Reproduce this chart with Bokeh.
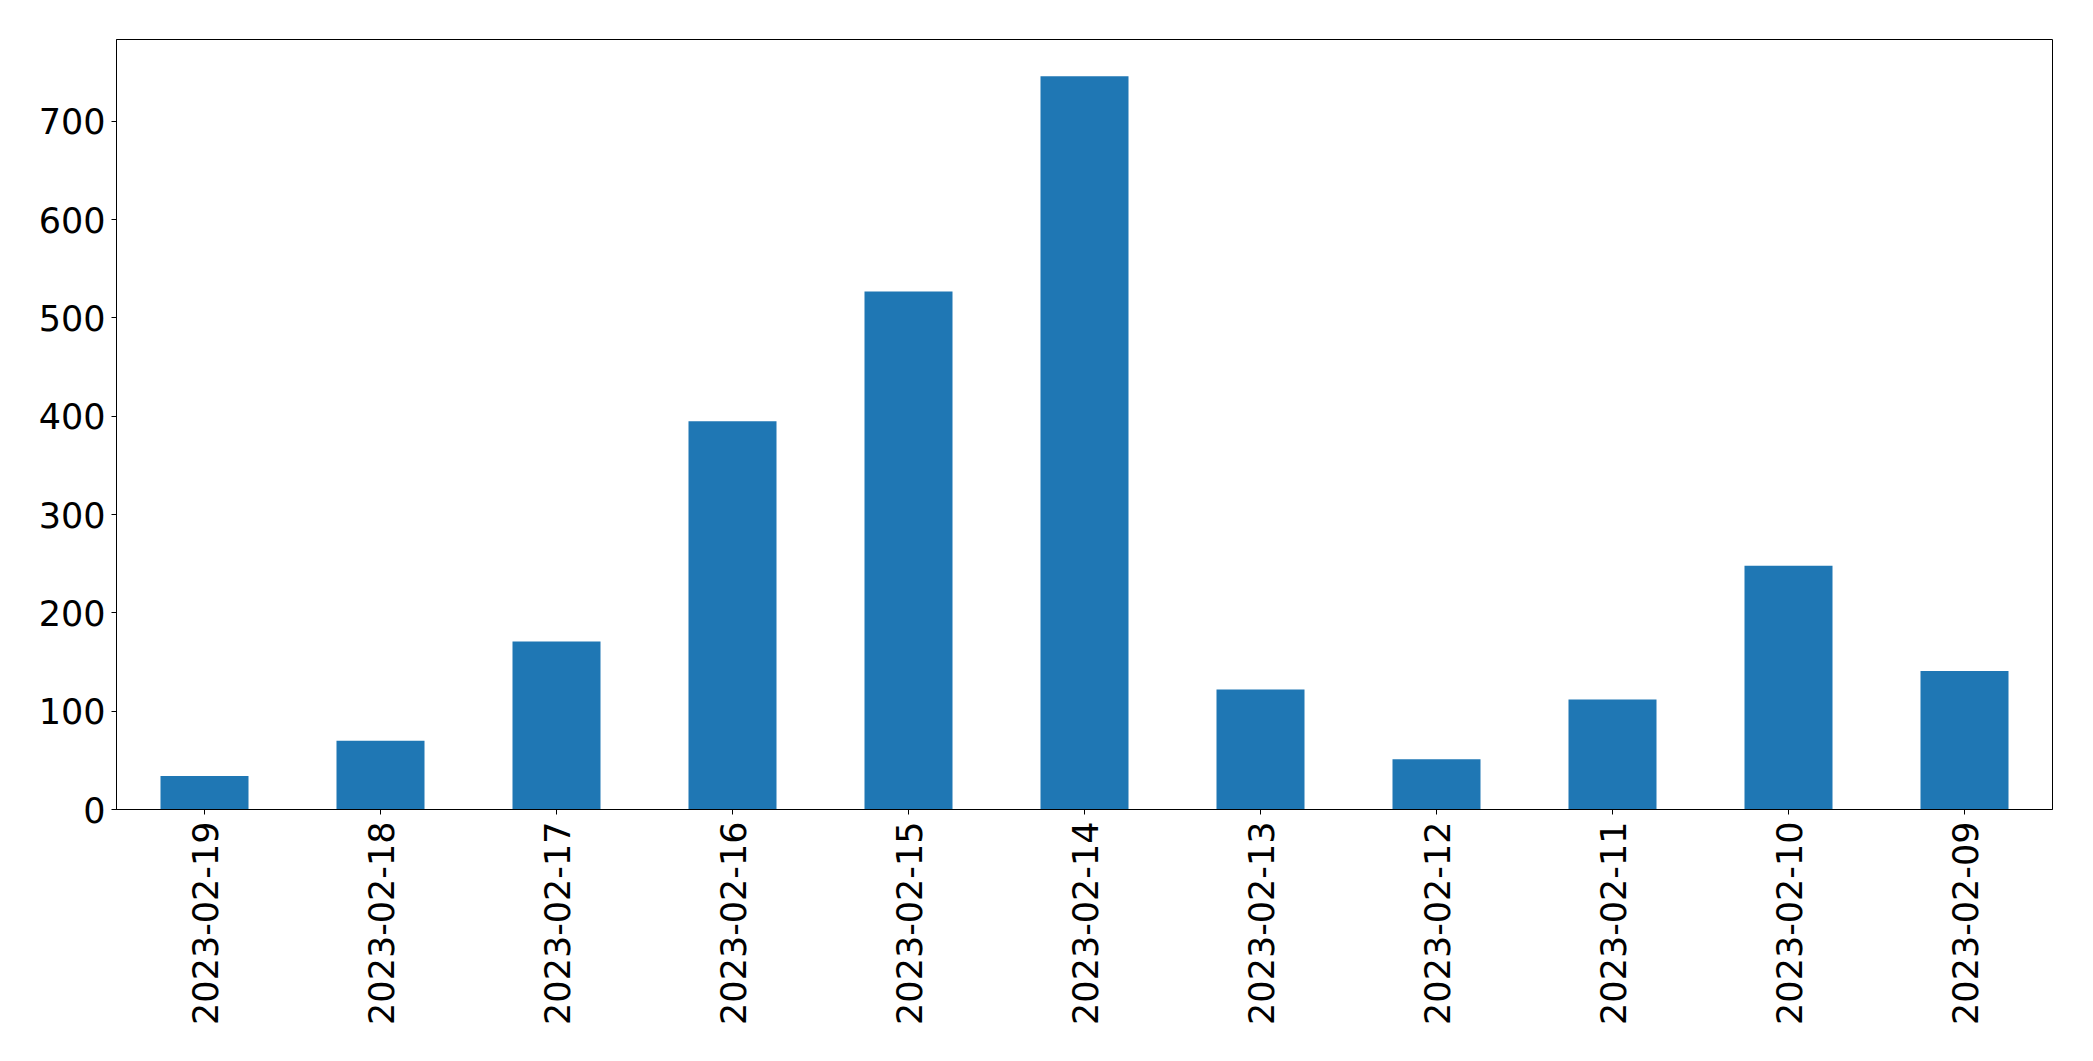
import math
from bokeh.plotting import figure
from bokeh.models import FactorRange, Range1d, FixedTicker, ColumnDataSource
from bokeh.embed import file_html
from bokeh.resources import INLINE

dates = ["2023-02-19", "2023-02-18", "2023-02-17", "2023-02-16", "2023-02-15",
         "2023-02-14", "2023-02-13", "2023-02-12", "2023-02-11", "2023-02-10",
         "2023-02-09"]
counts = [34, 70, 171, 395, 527, 746, 122, 51, 112, 248, 141]
y_ticks = [0, 100, 200, 300, 400, 500, 600, 700]

src = ColumnDataSource(data=dict(date=dates, count=counts))

W, H = 2077, 1045
p = figure(
    width=W, height=H,
    x_range=FactorRange(factors=dates),
    y_range=Range1d(0, max(counts) * 1.05),
    output_backend="svg", toolbar_location=None,
    min_border_left=116, min_border_top=39,
    min_border_right=W - 2052, min_border_bottom=H - 809,
)
p.vbar(x="date", top="count", width=0.5, source=src,
       fill_color="#1f77b4", line_color=None)

p.xgrid.visible = False
p.ygrid.visible = False
p.outline_line_color = "black"
p.outline_line_width = 1
p.background_fill_color = "white"
p.border_fill_color = "white"

for ax in (p.xaxis, p.yaxis):
    ax.axis_line_color = "black"
    ax.axis_line_width = 1
    ax.major_tick_line_color = "black"
    ax.major_tick_line_width = 1
    ax.major_tick_in = 0
    ax.major_tick_out = 5
    ax.minor_tick_line_color = None
    ax.major_label_text_font = "DejaVu Sans"
    ax.major_label_text_font_size = "35px"
    ax.major_label_text_color = "black"

p.yaxis.ticker = FixedTicker(ticks=y_ticks)
p.yaxis.major_label_standoff = 6
p.xaxis.major_label_orientation = math.pi / 2
p.xaxis.major_label_standoff = 7
p.x_range.range_padding = 0

open("out.html", "w").write(file_html(p, INLINE))
